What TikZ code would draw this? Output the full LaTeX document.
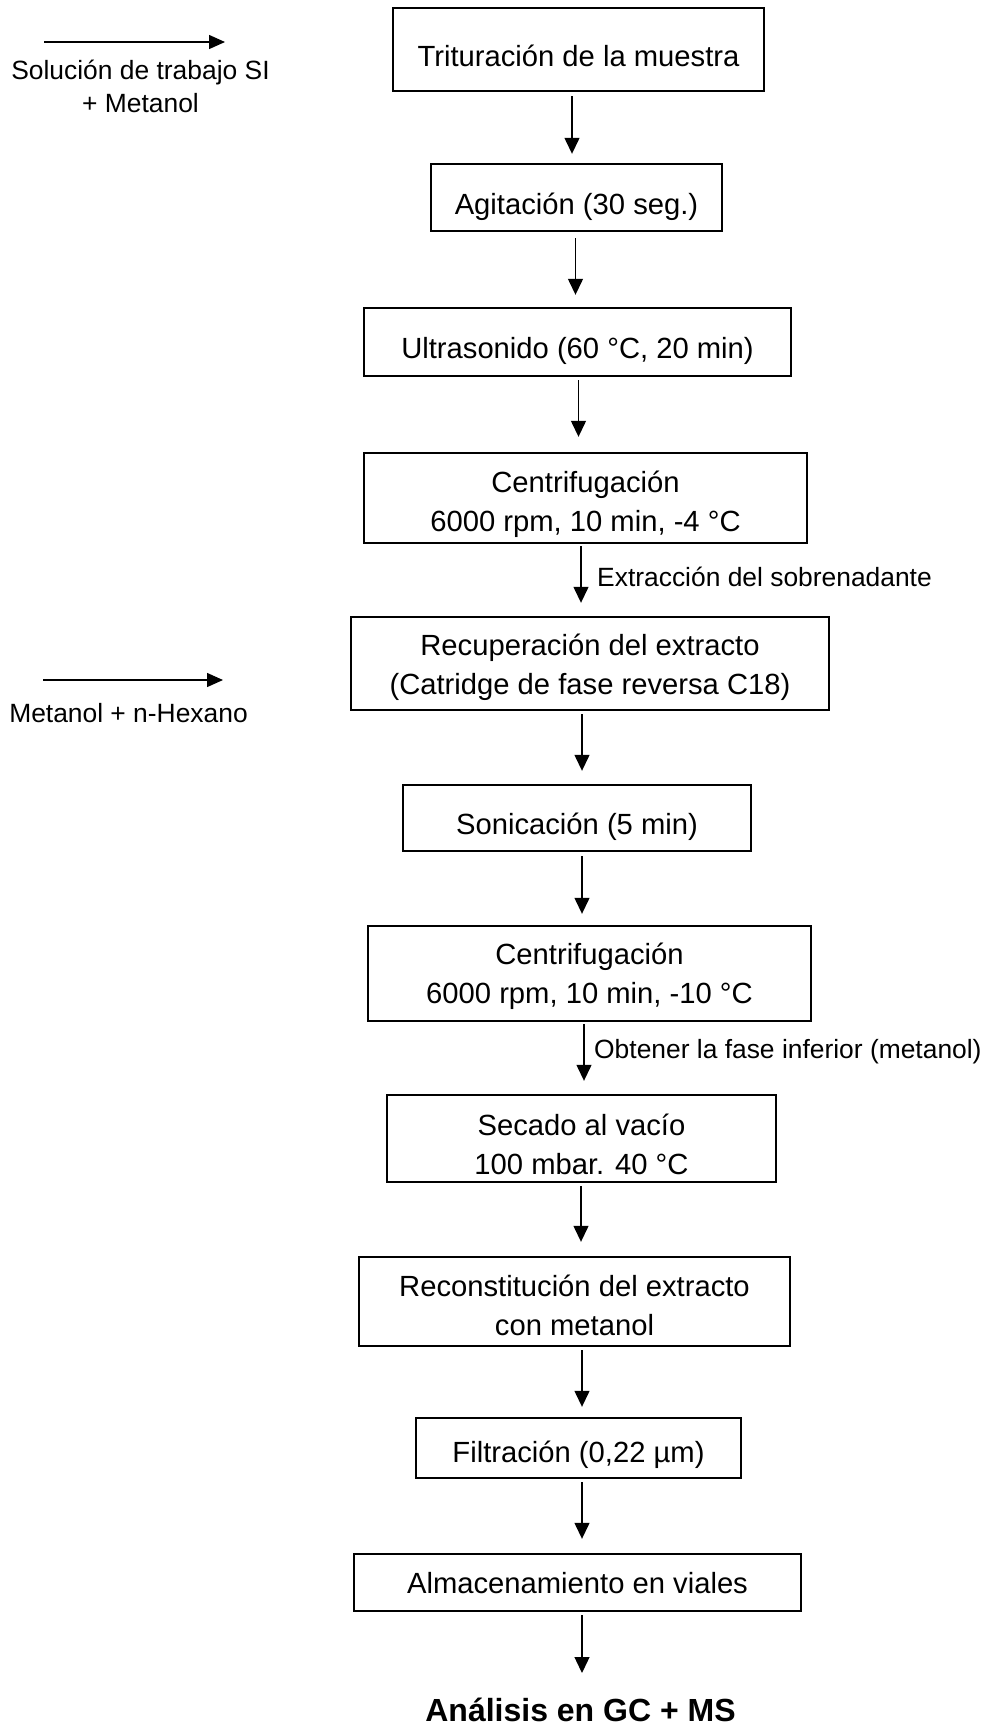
\documentclass[tikz,border=0pt]{standalone}
\usepackage{fontspec}
\setmainfont{Liberation Sans}
\usetikzlibrary{arrows.meta}
\begin{document}
\begin{tikzpicture}[x=1pt,y=-1pt,
  box/.style={draw=black, line width=2.4pt, rectangle, inner sep=0pt},
  txt/.style={font=\fontsize{29.2pt}{39pt}\selectfont, inner sep=0pt, anchor=base},
  lbl/.style={font=\fontsize{26.4pt}{33pt}\selectfont, inner sep=0pt},
  arr/.style={line width=1.3pt, -{Triangle[length=16pt,width=15pt]}},
  larr/.style={line width=1.4pt, -{Triangle[length=16pt,width=14pt]}},
]
\path[fill=white, use as bounding box] (0,0) rectangle (986,1725);

% boxes
\node[box, minimum width=371pt, minimum height=83pt] (b1) at (578.5,49.5) {};
\node[txt] (t1) at (578.5,66) {Trituración de la muestra};

\node[box, minimum width=291pt, minimum height=67pt] (b2) at (576.5,197.5) {};
\node[txt] (t2) at (576.5,214) {Agitación (30 seg.)};

\node[box, minimum width=427pt, minimum height=68pt] (b3) at (577.5,342) {};
\node[txt] (t3) at (577.5,358) {Ultrasonido (60 °C, 20 min)};

\node[box, minimum width=443pt, minimum height=90pt] (b4) at (585.5,498) {};
\node[txt] (t4) at (585.5,492) {\begin{tabular}[t]{@{}c@{}}Centrifugación\\6000 rpm, 10 min, -4 °C\end{tabular}};

\node[box, minimum width=478pt, minimum height=93pt] (b5) at (590,663.5) {};
\node[txt] (t5) at (590,655) {\begin{tabular}[t]{@{}c@{}}Recuperación del extracto\\(Catridge de fase reversa C18)\end{tabular}};

\node[box, minimum width=348pt, minimum height=66pt] (b6) at (577,818) {};
\node[txt] (t6) at (577,834) {Sonicación (5 min)};

\node[box, minimum width=443pt, minimum height=95pt] (b7) at (589.5,973.5) {};
\node[txt] (t7) at (589.5,964) {\begin{tabular}[t]{@{}c@{}}Centrifugación\\6000 rpm, 10 min, -10 °C\end{tabular}};

\node[box, minimum width=389pt, minimum height=87pt] (b8) at (581.5,1138.5) {};
\node[txt] (t8) at (581.5,1135) {\begin{tabular}[t]{@{}c@{}}Secado al vacío\\100 mbar. 40 °C\end{tabular}};

\node[box, minimum width=431pt, minimum height=89pt] (b9) at (574.5,1301.5) {};
\node[txt] (t9) at (574.5,1296) {\begin{tabular}[t]{@{}c@{}}Reconstitución del extracto\\con metanol\end{tabular}};

\node[box, minimum width=325pt, minimum height=60pt] (b10) at (578.5,1448) {};
\node[txt] (t10) at (578.5,1462) {Filtración (0,22 µm)};

\node[box, minimum width=447pt, minimum height=57pt] (b11) at (577.5,1582.5) {};
\node[txt] (t11) at (577.5,1593) {Almacenamiento en viales};

\node[font=\bfseries\fontsize{32pt}{38pt}\selectfont, inner sep=0pt, anchor=base] (fin) at (580.5,1721) {Análisis en GC + MS};
\coordinate (fintip) at (582,1673);

% vertical connectors
\draw[arr, shorten <=4pt, shorten >=9pt]  (572,0 |- b1.south) -- (572,0 |- b2.north);
\draw[arr, shorten <=6pt, shorten >=12pt] (575.5,0 |- b2.south) -- (575.5,0 |- b3.north);
\draw[arr, shorten <=3pt, shorten >=15pt] (578.5,0 |- b3.south) -- (578.5,0 |- b4.north);
\draw[arr, shorten <=2pt, shorten >=13pt] (581,0 |- b4.south) -- (581,0 |- b5.north);
\draw[arr, shorten <=3pt, shorten >=13pt] (582,0 |- b5.south) -- (582,0 |- b6.north);
\draw[arr, shorten <=4pt, shorten >=11pt] (582,0 |- b6.south) -- (582,0 |- b7.north);
\draw[arr, shorten <=2pt, shorten >=13pt] (584,0 |- b7.south) -- (584,0 |- b8.north);
\draw[arr, shorten <=3pt, shorten >=14pt] (581,0 |- b8.south) -- (581,0 |- b9.north);
\draw[arr, shorten <=3pt, shorten >=10pt] (582,0 |- b9.south) -- (582,0 |- b10.north);
\draw[arr, shorten <=3pt, shorten >=14pt] (582,0 |- b10.south) -- (582,0 |- b11.north);
\draw[arr, shorten <=3pt] (582,0 |- b11.south) -- (fintip);

% connector labels
\node[lbl, anchor=base west] (l1) at (597,586) {Extracción del sobrenadante};
\node[lbl, anchor=base west] (l2) at (594,1058) {Obtener la fase inferior (metanol)};

% side inputs
\coordinate (p1) at (44,42);
\coordinate (q1) at (225,42);
\draw[larr] (p1) -- (q1);
\node[lbl, anchor=base] (s1) at (140.5,79) {\begin{tabular}[t]{@{}c@{}}Solución de trabajo SI\\+ Metanol\end{tabular}};

\coordinate (p2) at (43,680);
\coordinate (q2) at (223,680);
\draw[larr] (p2) -- (q2);
\node[lbl, anchor=base] (s2) at (128.5,722) {Metanol + n-Hexano};
\end{tikzpicture}
\end{document}
